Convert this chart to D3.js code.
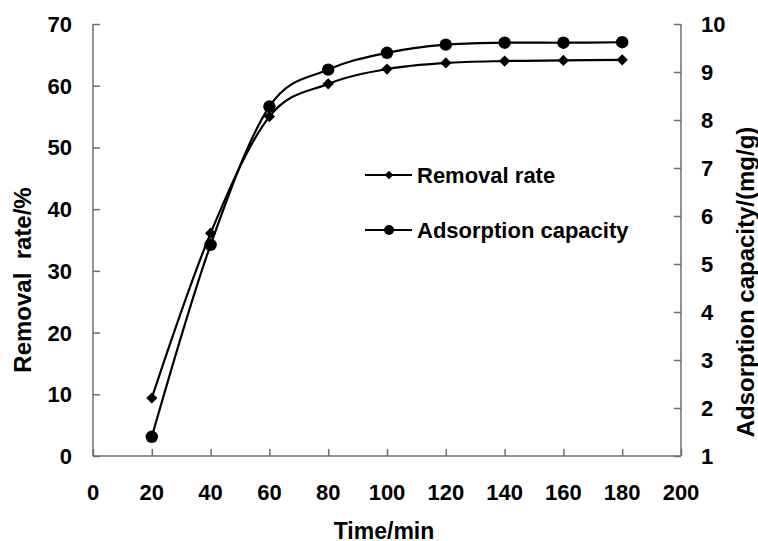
<!DOCTYPE html>
<html>
<head>
<meta charset="utf-8">
<script src="https://d3js.org/d3.v7.min.js"></script>
<style>
  body { margin: 0; background: #fff; }
  text { font-family: "Liberation Sans", Arial, sans-serif; font-weight: bold; fill: #000; }
</style>
</head>
<body>
<script>
// time points (min)
var times = [20, 40, 60, 80, 100, 120, 140, 160, 180];
// removal rate, left axis (%)
var removalRate = [9.4, 36.1, 55.0, 60.3, 62.7, 63.7, 64.0, 64.1, 64.2];
// adsorption capacity, right axis (mg/g)
var adsorptionCap = [1.40, 5.40, 8.28, 9.05, 9.40, 9.57, 9.61, 9.61, 9.62];

var xTicks = [0, 20, 40, 60, 80, 100, 120, 140, 160, 180, 200];
var leftTicks = [0, 10, 20, 30, 40, 50, 60, 70];
var rightTicks = [1, 2, 3, 4, 5, 6, 7, 8, 9, 10];

var width = 758, height = 541;
var plotLeft = 93, plotRight = 681, plotTop = 24, plotBottom = 456;

var svg = d3.select("body").append("svg")
    .attr("width", width)
    .attr("height", height);

var x = d3.scaleLinear().domain([0, 200]).range([plotLeft, plotRight]);
var yL = d3.scaleLinear().domain([0, 70]).range([plotBottom, plotTop]);
var yR = d3.scaleLinear().domain([1, 10]).range([plotBottom, plotTop]);

var axisColor = "#6e6e6e";

// x axis, ticks inward
var gx = svg.append("g")
    .attr("transform", "translate(0," + plotBottom + ")")
    .call(d3.axisTop(x).tickValues(xTicks).tickSize(7));
gx.selectAll("text").remove();
svg.selectAll(".xlab").data(xTicks).enter().append("text")
    .attr("class", "xlab")
    .attr("x", function(d) { return x(d); })
    .attr("y", 500)
    .attr("text-anchor", "middle")
    .attr("font-size", "22px")
    .text(function(d) { return d; });

// left axis
var gl = svg.append("g")
    .attr("transform", "translate(" + plotLeft + ",0)")
    .call(d3.axisRight(yL).tickValues(leftTicks).tickSize(7));
gl.selectAll("text").remove();
svg.selectAll(".llab").data(leftTicks).enter().append("text")
    .attr("class", "llab")
    .attr("x", 72)
    .attr("y", function(d) { return yL(d) + 8; })
    .attr("text-anchor", "end")
    .attr("font-size", "22px")
    .text(function(d) { return d; });

// right axis
var gr = svg.append("g")
    .attr("transform", "translate(" + plotRight + ",0)")
    .call(d3.axisLeft(yR).tickValues(rightTicks).tickSize(7));
gr.selectAll("text").remove();
svg.selectAll(".rlab").data(rightTicks).enter().append("text")
    .attr("class", "rlab")
    .attr("x", 701)
    .attr("y", function(d) { return yR(d) + 8; })
    .attr("text-anchor", "start")
    .attr("font-size", "22px")
    .text(function(d) { return d; });

[gx, gl, gr].forEach(function(g) {
  g.selectAll("path, line").attr("stroke", axisColor).attr("stroke-width", 1.5);
  g.select(".domain").attr("d", g === gx ? "M" + plotLeft + ",0H" + plotRight
      : "M0," + plotTop + "V" + plotBottom);
});

// axis titles
svg.append("text")
    .attr("transform", "translate(31,280) rotate(-90)")
    .attr("text-anchor", "middle")
    .attr("font-size", "24px")
    .attr("xml:space", "preserve")
    .text("Removal  rate/%");

svg.append("text")
    .attr("transform", "translate(754,282) rotate(-90)")
    .attr("text-anchor", "middle")
    .attr("font-size", "24px")
    .text("Adsorption capacity/(mg/g)");

svg.append("text")
    .attr("x", 384)
    .attr("y", 539)
    .attr("text-anchor", "middle")
    .attr("font-size", "23px")
    .text("Time/min");

// series
var removalData = times.map(function(t, i) { return { t: t, v: removalRate[i] }; });
var capData = times.map(function(t, i) { return { t: t, v: adsorptionCap[i] }; });

var lineL = d3.line()
    .x(function(d) { return x(d.t); })
    .y(function(d) { return yL(d.v); })
    .curve(d3.curveCardinal.tension(0));
var lineR = d3.line()
    .x(function(d) { return x(d.t); })
    .y(function(d) { return yR(d.v); })
    .curve(d3.curveCardinal.tension(0));

svg.append("path").datum(removalData)
    .attr("d", lineL)
    .attr("fill", "none")
    .attr("stroke", "#000")
    .attr("stroke-width", 2.2);
svg.append("path").datum(capData)
    .attr("d", lineR)
    .attr("fill", "none")
    .attr("stroke", "#000")
    .attr("stroke-width", 2.2);

svg.selectAll(".dia").data(removalData).enter().append("path")
    .attr("class", "dia")
    .attr("transform", function(d) { return "translate(" + x(d.t) + "," + yL(d.v) + ")"; })
    .attr("d", d3.symbol().type(d3.symbolDiamond2).size(80)())
    .attr("fill", "#000");

svg.selectAll(".dot").data(capData).enter().append("circle")
    .attr("class", "dot")
    .attr("cx", function(d) { return x(d.t); })
    .attr("cy", function(d) { return yR(d.v); })
    .attr("r", 6.2)
    .attr("fill", "#000");

// legend
var legend = [
  { name: "Removal rate", y: 175, mark: "diamond" },
  { name: "Adsorption capacity", y: 230, mark: "circle" }
];
legend.forEach(function(l) {
  svg.append("line")
      .attr("x1", 365).attr("x2", 412)
      .attr("y1", l.y).attr("y2", l.y)
      .attr("stroke", "#000").attr("stroke-width", 2.2);
  if (l.mark === "diamond") {
    svg.append("path")
        .attr("transform", "translate(389," + l.y + ")")
        .attr("d", d3.symbol().type(d3.symbolDiamond2).size(48)())
        .attr("fill", "#000");
  } else {
    svg.append("circle")
        .attr("cx", 389).attr("cy", l.y).attr("r", 5)
        .attr("fill", "#000");
  }
  svg.append("text")
      .attr("x", 417)
      .attr("y", l.y + 8)
      .attr("font-size", "22px")
      .text(l.name);
});
</script>
</body>
</html>
